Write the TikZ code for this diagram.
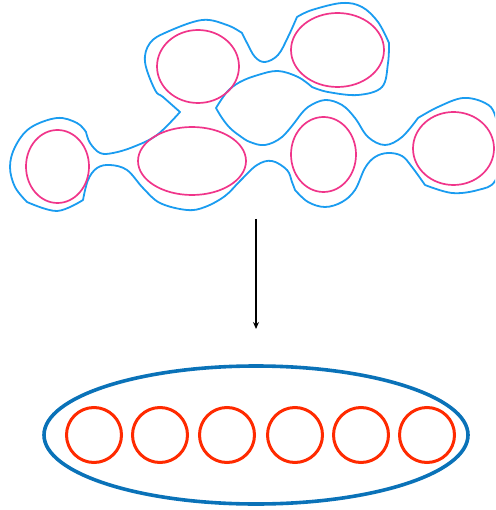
\documentclass[tikz,border=0pt]{standalone}
\usetikzlibrary{arrows.meta}
\definecolor{blobblue}{HTML}{1A9CF0}
\definecolor{cellpink}{HTML}{F0358A}
\definecolor{setblue}{HTML}{0A72B8}
\definecolor{elemred}{HTML}{FF2A00}
\tikzset{
  blob/.style={draw=blobblue, line width=1.8pt, line join=round},
  cell/.style={draw=cellpink, line width=1.7pt},
  setring/.style={draw=setblue, line width=3.6pt},
  elem/.style={draw=elemred, line width=3pt},
  mapsto/.style={draw=black, line width=1.2pt, -{Stealth[length=7pt,width=6pt]}},
  sm/.style={smooth, tension=0.6}
}
\begin{document}
\begin{tikzpicture}[x=1pt,y=-1pt]
\useasboundingbox (0,0) rectangle (495,510);
\clip (0,0) rectangle (495,510);
% blue outline
\draw[blob]
  plot[sm] coordinates {(180,112) (163,97) (155,90) (145,62) (150,43) (167,32) (202,20) (227,25) (242,33)}
  -- plot[sm] coordinates {(242,33) (247,43) (255,57) (265,62) (278,55) (288,37) (297,17)}
  -- plot[sm] coordinates {(297,17) (312,10) (342,3) (362,7) (378,22) (389,43)}
  -- plot[sm] coordinates {(389,43) (388,63) (382,87) (358,95) (328,92) (312,87)}
  -- plot[sm] coordinates {(312,87) (298,77) (278,71) (258,75) (240,82) (227,92) (216,108)}
  -- plot[sm] coordinates {(216,108) (222,118) (230,128) (240,136) (250,142) (265,145) (282,137) (298,118)}
  -- plot[sm] coordinates {(298,118) (308,107) (325,100) (342,105) (355,118) (368,137) (385,145) (402,137) (418,118)}
  -- plot[sm] coordinates {(418,118) (438,107) (463,98) (485,103) (495,115) (502,150) (495,181) (478,190) (452,193) (425,185)}
  -- plot[sm] coordinates {(425,185) (412,167) (402,156) (388,153) (375,157) (365,168) (355,190) (342,202) (325,207) (308,202) (295,190)}
  -- plot[sm] coordinates {(295,190) (292,182) (287,170) (272,161) (257,165) (240,181) (225,196) (205,207) (187,210) (160,203) (143,188) (127,170) (110,165) (97,168) (88,180) (83,200)}
  -- plot[sm] coordinates {(83,200) (57,211) (27,202)}
  -- plot[sm] coordinates {(27,202) (15,187) (10,167) (15,147) (30,128) (57,118) (77,123) (86,132)}
  -- plot[sm] coordinates {(86,132) (90,143) (100,153) (113,153) (133,147) (157,135) (180,112)}
  -- cycle;
% pink cells
\draw[cell] (57.5,166.5) ellipse [x radius=31.5, y radius=36.5];
\draw[cell] (192,161) ellipse [x radius=54, y radius=34];
\draw[cell] (198,66.5) ellipse [x radius=41, y radius=36.5];
\draw[cell] (337.5,50) ellipse [x radius=46.5, y radius=37];
\draw[cell] (323.5,154.5) ellipse [x radius=32.5, y radius=37.5];
\draw[cell] (453.5,148.5) ellipse [x radius=40.5, y radius=36.5];
% arrow
\coordinate (from) at (256,219);
\coordinate (to) at (256,329);
\draw[mapsto] (from) -- (to);
% bottom set
\draw[setring] (256,435) ellipse [x radius=212, y radius=69];
\foreach \cx in {94,160,227,295,361,427}
  \draw[elem] (\cx,435) circle [radius=27.5];
\end{tikzpicture}
\end{document}
